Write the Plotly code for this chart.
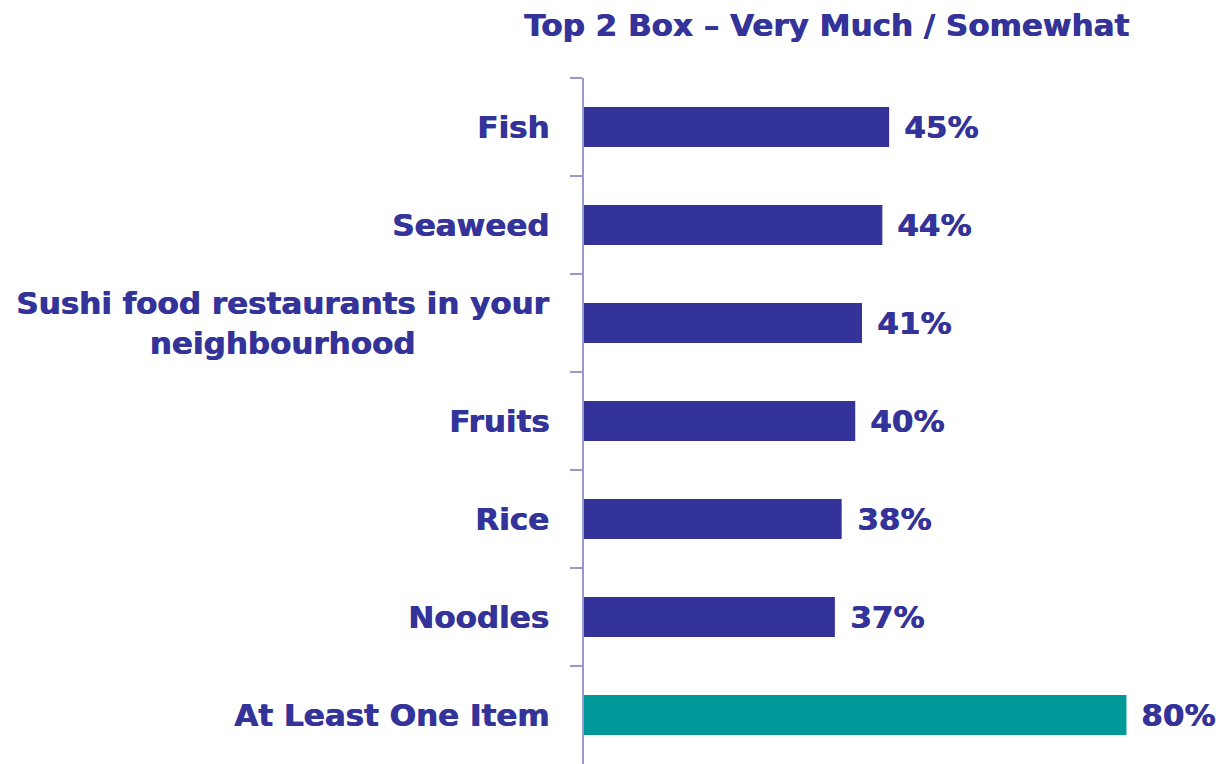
import plotly.graph_objects as go

categories = ["Fish", "Seaweed", "Sushi food restaurants in your<br>neighbourhood",
              "Fruits", "Rice", "Noodles", "At Least One Item"]
values = [45, 44, 41, 40, 38, 37, 80]
value_labels = ["45%", "44%", "41%", "40%", "38%", "37%", "80%"]
bar_colors = ["#333399"] * 6 + ["#009999"]
title_text = "Top 2 Box – Very Much / Somewhat"

FONT = "DejaVu Sans"
TXT = "#333399"
AX = "#9999cc"
SHADOW = "0.8px 0 0 #333399"

fig = go.Figure()
fig.add_trace(go.Bar(
    y=categories, x=values, orientation="h",
    marker=dict(color=bar_colors, line=dict(width=0)),
    hoverinfo="skip",
))

def f():
    return dict(family=FONT, size=31, color=TXT, shadow=SHADOW)

annotations = []
for c, v, lab in zip(categories, values, value_labels):
    annotations.append(dict(
        x=v, y=c, xref="x", yref="y", text="<b>%s</b>" % lab,
        xanchor="left", yanchor="middle", xshift=13, showarrow=False,
        font=f()))
    annotations.append(dict(
        x=0, y=c, xref="paper", yref="y", text="<b>%s</b>" % c,
        xanchor="right", yanchor="middle", xshift=-33, showarrow=False,
        align="center", font=f()))
annotations.append(dict(
    x=0.382, y=1, xref="paper", yref="paper", text="<b>%s</b>" % title_text,
    xanchor="center", yanchor="middle", yshift=53, showarrow=False,
    font=f()))

fig.update_layout(
    width=1218, height=764,
    margin=dict(l=584, r=0, t=78, b=0),
    paper_bgcolor="white", plot_bgcolor="white",
    showlegend=False, bargap=0.59,
    annotations=annotations,
    xaxis=dict(visible=False, range=[0, 93.5], fixedrange=True),
    yaxis=dict(
        range=[6.5, -0.5], showticklabels=False,
        ticks="outside", ticklen=12, tickwidth=2, tickcolor=AX,
        tickson="boundaries", showline=True, linecolor=AX, linewidth=2,
        showgrid=False, zeroline=False, fixedrange=True,
    ),
)

fig.write_html(
    "out.html",
    config={"displayModeBar": False},
    post_script="document.body.style.margin='0';document.body.style.overflow='hidden';",
)
